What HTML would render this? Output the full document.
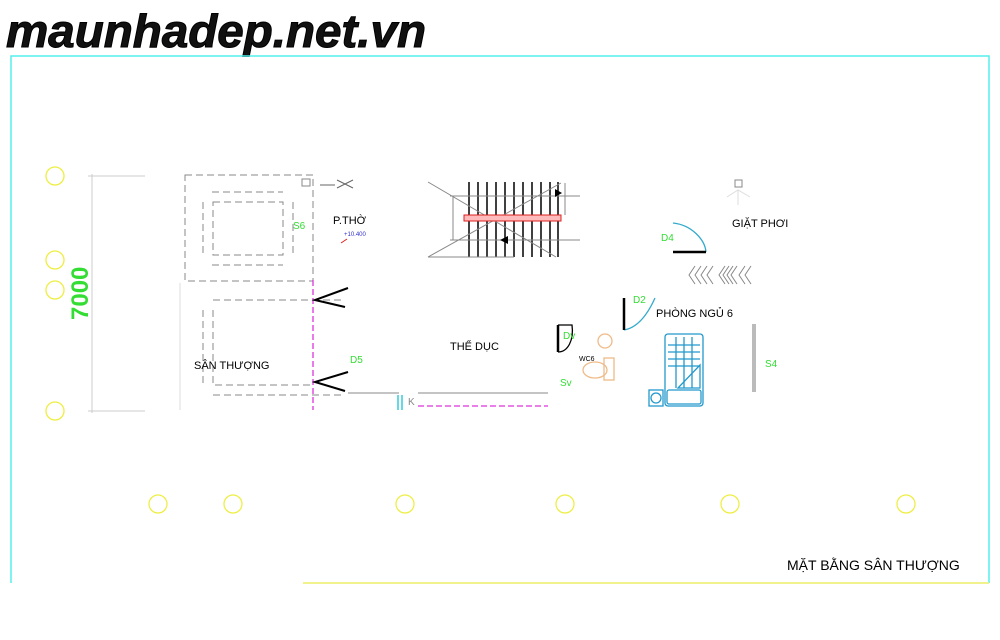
<!DOCTYPE html><html><head><style>body{margin:0;background:#fff}svg{display:block}</style></head><body>
<svg width="1000" height="640" viewBox="0 0 1000 640" xmlns="http://www.w3.org/2000/svg" font-family="Liberation Sans, sans-serif">
<text x="6" y="47" font-size="46" font-weight="bold" font-style="italic" fill="#111" stroke="#000" stroke-width="1" textLength="420" lengthAdjust="spacingAndGlyphs">maunhadep.net.vn</text>
<path d="M11 583V56H989V583" fill="none" stroke="#5ee" stroke-width="1.5"/>
<line x1="303" y1="583" x2="989" y2="583" stroke="#ee6" stroke-width="1.5"/>
<g fill="none" stroke="#ee4" stroke-width="1.3">
<circle cx="55" cy="176" r="9"/><circle cx="55" cy="260" r="9"/><circle cx="55" cy="290" r="9"/><circle cx="55" cy="411" r="9"/>
<circle cx="158" cy="504" r="9"/><circle cx="233" cy="504" r="9"/><circle cx="405" cy="504" r="9"/><circle cx="565" cy="504" r="9"/><circle cx="730" cy="504" r="9"/><circle cx="906" cy="504" r="9"/>
</g>
<g stroke="#ccc" stroke-width="1"><line x1="92" y1="174" x2="92" y2="413"/><line x1="88" y1="176" x2="145" y2="176"/><line x1="88" y1="411" x2="145" y2="411"/></g>
<text transform="translate(88,320) rotate(-90)" font-size="24" font-weight="bold" fill="#3d3">7000</text>
<g fill="none" stroke="#888" stroke-width="1" stroke-dasharray="7,4">
<rect x="185" y="175" width="128" height="106"/>
<rect x="213" y="202" width="70" height="53"/>
<path d="M212 192H283M203 202V255M293 202V255M212 265H283"/>
<path d="M213 300H345M213 310V385H313M203 310V385M213 395H345"/>
</g>
<line x1="180" y1="283" x2="180" y2="410" stroke="#ddd"/>
<line x1="313" y1="280" x2="313" y2="410" stroke="#d3d" stroke-width="1.3" stroke-dasharray="6,3"/>
<path d="M348 288L315 300L345 307M348 372L315 382L345 391" fill="none" stroke="#000" stroke-width="2"/>
<line x1="348" y1="393" x2="399" y2="393" stroke="#888"/>
<line x1="418" y1="393" x2="548" y2="393" stroke="#888"/>
<line x1="418" y1="406" x2="548" y2="406" stroke="#d3d" stroke-width="1.3" stroke-dasharray="6,3"/>
<path d="M398 395V410M402 395V410" stroke="#3cd" stroke-width="1.5"/>
<text x="408" y="405" font-size="10" fill="#888">K</text>
<rect x="302" y="179" width="8" height="7" fill="none" stroke="#888"/>
<path d="M320 185H335M337 180L353 188M337 188L353 180" stroke="#666"/>
<text x="333" y="224" font-size="11" fill="#000">P.THỜ</text>
<text x="344" y="236" font-size="6" fill="#33c">+10.400</text>
<line x1="341" y1="243" x2="347" y2="239" stroke="#d22"/>
<text x="293" y="229" font-size="10" fill="#3d3">S6</text>
<text x="350" y="363" font-size="10" fill="#3d3">D5</text>
<text x="194" y="369" font-size="11" fill="#000">SÂN THƯỢNG</text>
<text x="450" y="350" font-size="11" fill="#000">THỂ DỤC</text>
<g stroke="#000" stroke-width="1.5">
<path d="M469 182V257M478 182V257M487 182V257M496 182V257M505 182V257M514 182V257M523 182V257M532 182V257M541 182V257M550 182V257M558 182V257"/>
</g>
<g stroke="#888" stroke-width="1"><path d="M450 196H580M453 196V240M450 240H580M428 182L556 257M428 257L561 183M428 257H514M565 183V215"/></g>
<rect x="464" y="215" width="97" height="6" fill="#fbb" stroke="#d22"/>
<path d="M555 189L562 193L555 197Z M508 236L500 240L508 244Z" fill="#000"/>
<path d="M558 325H572C574 340 568 352 558 352" fill="none" stroke="#000" stroke-width="1.3"/>
<line x1="558" y1="325" x2="558" y2="352" stroke="#000" stroke-width="2.5"/>
<text x="563" y="339" font-size="10" fill="#3d3">Dv</text>
<text x="579" y="361" font-size="7" fill="#000">WC6</text>
<text x="560" y="386" font-size="10" fill="#3d3">Sv</text>
<g fill="none" stroke="#eb8" stroke-width="1.3"><circle cx="605" cy="341" r="7"/><ellipse cx="595" cy="370" rx="12" ry="8"/><rect x="604" y="358" width="10" height="22"/></g>
<path d="M624 298V330M624 330C636 328 646 318 655 298" fill="none" stroke="#3ac" stroke-width="1.3"/>
<line x1="624" y1="298" x2="624" y2="330" stroke="#000" stroke-width="2.5"/>
<text x="633" y="303" font-size="10" fill="#3d3">D2</text>
<path d="M673 223C692 225 705 240 706 252" fill="none" stroke="#3ac" stroke-width="1.3"/>
<line x1="673" y1="252" x2="706" y2="252" stroke="#000" stroke-width="2.5"/>
<text x="661" y="241" font-size="10" fill="#3d3">D4</text>
<text x="732" y="227" font-size="11" fill="#000">GIẶT PHƠI</text>
<rect x="735" y="180" width="7" height="7" fill="none" stroke="#888"/>
<path d="M727 197L738 190L750 197M738 190V205" stroke="#ddd" fill="none"/>
<g fill="none" stroke="#888" stroke-width="1">
<path d="M695 266L689 275L695 284M701 266L695 275L701 284M707 266L701 275L707 284M713 266L707 275L713 284M725 266L719 275L725 284M729 266L723 275L729 284M733 266L727 275L733 284M737 266L731 275L737 284M745 266L739 275L745 284M751 266L745 275L751 284"/>
</g>
<text x="656" y="317" font-size="11" fill="#000">PHÒNG NGỦ 6</text>
<g fill="none" stroke="#29c" stroke-width="1.3">
<rect x="665" y="334" width="38" height="72" rx="3"/>
<rect x="667" y="390" width="34" height="14" rx="2"/>
<path d="M668 345H700M668 352H700M668 359H700M668 366H700M676 337V388M684 337V388M692 337V388"/>
<path d="M678 388L700 365V388Z"/>
<rect x="649" y="390" width="14" height="16"/><circle cx="656" cy="398" r="5"/>
</g>
<rect x="752" y="324" width="4" height="68" fill="#bbb"/>
<text x="765" y="367" font-size="10" fill="#3d3">S4</text>
<text x="787" y="570" font-size="14" fill="#000">MẶT BẰNG SÂN THƯỢNG</text>
</svg></body></html>
